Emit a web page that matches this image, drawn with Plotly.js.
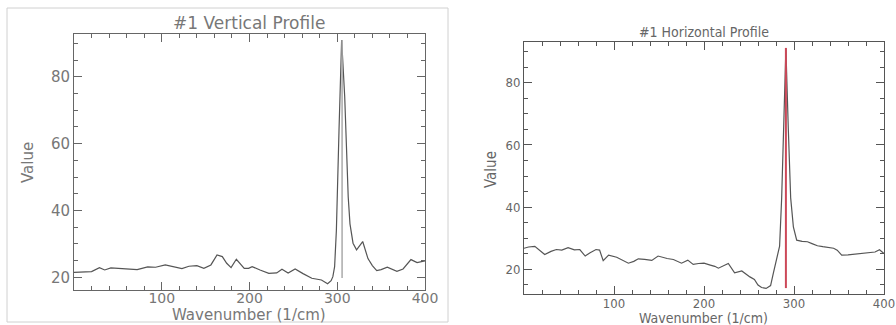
<!DOCTYPE html>
<html>
<head>
<meta charset="utf-8">
<script src="https://cdn.plot.ly/plotly-3.0.1.min.js"></script>
<style>html,body{margin:0;padding:0;background:#fff;}#chart{width:896px;height:325px;}</style>
</head>
<body>
<div id="chart"></div>
<script>
// ---- data ----
const vertX = [0, 3, 12, 20, 29, 35, 42, 50, 61, 72, 84, 93, 104, 114, 123, 131, 140, 148, 156, 163, 169, 174, 179, 185, 190, 194, 199, 203, 212, 222, 231, 237, 244, 252, 261, 271, 282, 289, 293, 295, 297, 299, 302, 305, 308.5, 312.5, 314.5, 318, 322, 329, 335, 340, 345, 350, 357, 363, 368, 375, 380, 384, 391, 400];
const vertY = [21.5, 21.5, 21.6, 21.7, 22.9, 22.2, 22.8, 22.7, 22.4, 22.3, 23.1, 23.0, 23.7, 23.0, 22.6, 23.3, 23.5, 22.7, 23.7, 26.7, 26.2, 24.2, 22.9, 25.4, 23.7, 22.7, 22.7, 23.2, 22.2, 21.2, 21.3, 22.4, 21.3, 22.5, 21.1, 19.7, 19.2, 18.1, 19.0, 20.2, 23.2, 34, 64, 91, 74, 44, 36, 30.2, 28.2, 30.7, 25.6, 23.5, 22.0, 22.3, 23.0, 22.3, 21.8, 22.5, 24.0, 25.3, 24.4, 24.9];
const vertMarkX = [305.5, 305.5];
const vertMarkY = [19.8, 91];

const horX = [0, 5, 12, 18, 23, 30, 36, 42, 49, 56, 62, 68, 73, 80, 84, 88, 94, 103, 110, 116, 122, 127, 134, 142, 149, 155, 159, 166, 175, 182, 188, 194, 200, 207, 212, 216, 222, 227, 234, 242, 251, 256, 260, 264, 269, 274, 277, 281, 284, 286.3, 289, 291, 293.7, 296.3, 299.3, 303, 309, 315, 320, 326, 332, 338, 344, 348, 353, 360, 370, 378, 384, 390, 395, 400];
const horY = [26.8, 27.2, 27.4, 26.0, 24.8, 25.8, 26.4, 26.2, 27.0, 26.3, 26.4, 24.3, 25.3, 26.4, 26.2, 22.8, 24.6, 23.9, 23.0, 22.0, 22.6, 23.4, 23.2, 22.9, 24.3, 23.8, 23.5, 23.2, 22.0, 23.0, 21.6, 21.9, 22.0, 21.4, 21.0, 20.4, 21.2, 21.9, 18.9, 19.5, 17.6, 16.8, 15.0, 14.2, 13.9, 14.8, 18.7, 24.0, 27.5, 43, 75.5, 91, 65, 43, 33.7, 29.4, 29.0, 28.9, 28.3, 27.6, 27.3, 27.1, 26.8, 26.2, 24.6, 24.7, 25.0, 25.1, 25.3, 25.6, 26.3, 25.1];
const horMarkX = [291, 291];
const horMarkY = [14, 91.2];

const xTicks = [100, 200, 300, 400];
const yTicks = [20, 40, 60, 80];

const leftTitle = "#1 Vertical Profile";
const rightTitle = "#1 Horizontal Profile";
const xTitle = "Wavenumber (1/cm)";
const yTitle = "Value";

// ---- layout helpers ----
const W = 896, H = 325;
const px = v => v / W;
const py = v => 1 - v / H;

const leftFam = "DejaVu Sans, Verdana, sans-serif";
const rightFam = "DejaVu Sans Condensed, Liberation Sans Narrow, Roboto Condensed, sans-serif";
const leftFont = {family: leftFam, size: 15, color: "#777"};
const leftXFont = {family: leftFam, size: 14, color: "#777"};
const rightFont = {family: rightFam, size: 13, color: "#666"};

function axisX(domain, font, col, standoff) {
  return {
    domain: domain, range: [0, 400], tickvals: xTicks, ticktext: xTicks.map(String),
    showline: true, linecolor: col, linewidth: 1, mirror: "ticks",
    ticks: "inside", ticklen: 8, tickcolor: col, tickwidth: 1,
    minor: {dtick: 20, ticks: "inside", ticklen: 4, tickcolor: col, tickwidth: 1},
    ticklabelstandoff: standoff,
    showgrid: false, zeroline: false, tickfont: font, fixedrange: true
  };
}
function axisY(domain, range, font, col) {
  return {
    domain: domain, range: range, tickvals: yTicks, ticktext: yTicks.map(String),
    showline: true, linecolor: col, linewidth: 1, mirror: "ticks",
    ticks: "inside", ticklen: 8, tickcolor: col, tickwidth: 1,
    minor: {dtick: 5, ticks: "inside", ticklen: 4, tickcolor: col, tickwidth: 1},
    showgrid: false, zeroline: false, tickfont: font, fixedrange: true
  };
}

const traces = [
  {x: vertX, y: vertY, type: "scatter", mode: "lines", line: {color: "#555", width: 1.2}, xaxis: "x", yaxis: "y", hoverinfo: "skip"},
  {x: vertMarkX, y: vertMarkY, type: "scatter", mode: "lines", line: {color: "#aaa", width: 1.5}, xaxis: "x", yaxis: "y", hoverinfo: "skip"},
  {x: horX, y: horY, type: "scatter", mode: "lines", line: {color: "#555", width: 1.2}, xaxis: "x2", yaxis: "y2", hoverinfo: "skip"},
  {x: horMarkX, y: horMarkY, type: "scatter", mode: "lines", line: {color: "#cc4858", width: 2}, xaxis: "x2", yaxis: "y2", hoverinfo: "skip"}
];

const layout = {
  width: W, height: H, margin: {l: 0, r: 0, t: 0, b: 0},
  paper_bgcolor: "#fff", plot_bgcolor: "#fff", showlegend: false,
  xaxis: axisX([px(74), px(425)], leftXFont, "#666", -5),
  yaxis: Object.assign(axisY([py(290), py(34)], [16.2, 92.8], leftFont, "#666"), {anchor: "x"}),
  xaxis2: Object.assign(axisX([px(524), px(884)], rightFont, "#555", -3), {anchor: "y2"}),
  yaxis2: Object.assign(axisY([py(294), py(42)], [12.1, 93.1], rightFont, "#555"), {anchor: "x2"}),
  shapes: [
    {type: "rect", xref: "paper", yref: "paper", x0: px(7), x1: px(448), y0: py(322), y1: py(8), line: {color: "#d0d0d0", width: 1}}
  ],
  annotations: [
    {text: leftTitle, xref: "paper", yref: "paper", x: px(249), y: py(23), showarrow: false, font: {family: leftFam, size: 17, color: "#777"}, xanchor: "center", yanchor: "middle"},
    {text: xTitle, xref: "paper", yref: "paper", x: px(249), y: 0, showarrow: false, font: {family: leftFam, size: 15, color: "#777"}, xanchor: "center", yanchor: "bottom", borderpad: 0},
    {text: yTitle, xref: "paper", yref: "paper", x: px(28), y: py(163), showarrow: false, font: leftFont, textangle: -90, xanchor: "center", yanchor: "middle"},
    {text: rightTitle, xref: "paper", yref: "paper", x: px(704), y: py(32), showarrow: false, font: {family: rightFam, size: 14, color: "#666"}, xanchor: "center", yanchor: "middle"},
    {text: xTitle, xref: "paper", yref: "paper", x: px(703), y: py(318), showarrow: false, font: {family: rightFam, size: 14, color: "#666"}, xanchor: "center", yanchor: "middle"},
    {text: yTitle, xref: "paper", yref: "paper", x: px(491), y: py(170), showarrow: false, font: {family: rightFam, size: 15, color: "#666"}, textangle: -90, xanchor: "center", yanchor: "middle"}
  ]
};

Plotly.newPlot("chart", traces, layout, {staticPlot: true, displayModeBar: false});
</script>
</body>
</html>
